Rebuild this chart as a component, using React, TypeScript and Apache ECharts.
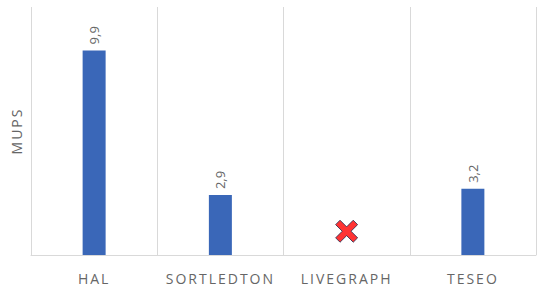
import React, { useEffect, useRef } from "react";
import * as echarts from "echarts";

const categories = ["HAL", "SORTLEDTON", "LIVEGRAPH", "TESEO"];
const mupsValues: (number | string)[] = [9.9, 2.9, "-", 3.2];
const missingMarker: (number | string)[] = ["-", "-", 1.15, "-"];
const axisName = "MUPS";

const crossPath =
  "path://M4,0 L10,6 L16,0 L20,4 L14,10 L20,16 L16,20 L10,14 L4,20 L0,16 L6,10 L0,4 Z";

export default function App() {
  const ref = useRef<HTMLDivElement>(null);
  useEffect(() => {
    if (!ref.current) return;
    const chart = echarts.init(ref.current, null, { renderer: "svg" });
    chart.setOption({
      animation: false,
      grid: { left: 31, right: 1, top: 7, bottom: 35 },
      xAxis: {
        type: "category",
        data: categories,
        axisLine: { show: true, lineStyle: { color: "#d9d9d9", width: 1 } },
        axisTick: { show: false },
        splitLine: { show: true, lineStyle: { color: "#d9d9d9", width: 1 } },
        axisLabel: {
          color: "#666666",
          fontSize: 14,
          fontFamily: "Open Sans",
          margin: 16,
        },
      },
      yAxis: {
        type: "value",
        min: 0,
        max: 12,
        name: axisName,
        nameLocation: "middle",
        nameGap: 8,
        nameTextStyle: { color: "#666666", fontSize: 14, fontFamily: "Open Sans" },
        axisLine: { show: false },
        axisTick: { show: false },
        axisLabel: { show: false },
        splitLine: { show: false },
      },
      series: [
        {
          type: "bar",
          data: mupsValues,
          barWidth: 23,
          itemStyle: { color: "#3a67b8" },
          label: {
            show: true,
            position: "top",
            rotate: 90,
            align: "left",
            verticalAlign: "middle",
            distance: 6,
            color: "#666666",
            fontSize: 13,
            fontFamily: "Open Sans",
            formatter: (p: any) => String(p.value).replace(".", ","),
          },
        },
        {
          type: "scatter",
          data: missingMarker,
          symbol: crossPath,
          symbolSize: 22,
          itemStyle: { color: "#ff0000", borderColor: "#1f2d50", borderWidth: 1 },
        },
      ],
    });
    const spaced = new Set([...categories, axisName]);
    const applySpacing = () => {
      const root = ref.current;
      if (!root) return;
      root.querySelectorAll("text").forEach((t) => {
        if (spaced.has((t.textContent || "").trim())) {
          t.setAttribute("letter-spacing", "2");
        }
      });
    };
    applySpacing();
    chart.on("finished", applySpacing);
    const timer = setTimeout(applySpacing, 50);
    return () => {
      clearTimeout(timer);
      chart.dispose();
    };
  }, []);
  return (
    <div
      ref={ref}
      style={{ position: "fixed", left: 0, top: 0, width: 537, height: 290, background: "#fff" }}
    />
  );
}
